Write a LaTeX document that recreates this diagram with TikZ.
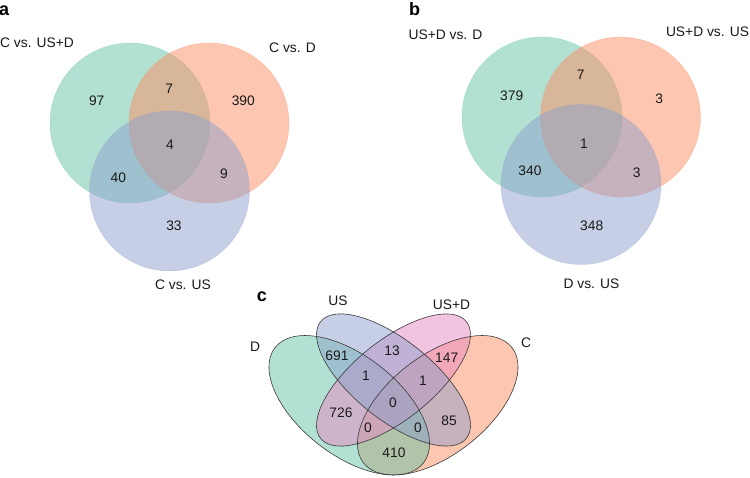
\documentclass[tikz,border=0pt]{standalone}
\usepackage{fontspec}
\setmainfont{Liberation Sans}
\definecolor{vgreen}{HTML}{66C2A5}
\definecolor{vorange}{HTML}{FC8D62}
\definecolor{vblue}{HTML}{8DA0CB}
\definecolor{vpink}{HTML}{E78AC3}
\definecolor{vline}{HTML}{3A3A3A}
\begin{document}
\begin{tikzpicture}[x=1pt,y=-1pt,
  lbl/.style={font=\fontsize{13.8}{16}\selectfont, inner sep=0pt, text=black!90},
  num/.style={lbl},
  panel/.style={font=\fontsize{18}{20}\selectfont\bfseries, inner sep=0pt, anchor=base},
  fillset/.style={fill=#1, fill opacity=0.5, draw=#1, draw opacity=0.35, line width=0.5pt},
  qfill/.style={fill=#1, fill opacity=0.5},
  qline/.style={draw=vline, line width=0.6pt}
]
\useasboundingbox (0,0) rectangle (750,477);

% ---------- panel a ----------
\coordinate (a1) at (130,123);
\coordinate (a2) at (209,123);
\coordinate (a3) at (169.5,191);
\path[fillset=vgreen]  (a1) circle[radius=80pt];
\path[fillset=vorange] (a2) circle[radius=80pt];
\path[fillset=vblue]   (a3) circle[radius=80pt];
\node[panel] (pa) at (4.2,15) {a};
\node[lbl, anchor=west] (la1) at (0,43) {C vs. US+D};
\node[lbl] (la2) at (292.5,47.5) {C vs. D};
\node[lbl] (la3) at (183,285) {C vs. US};
\node[num] (na1) at (96.7,101) {97};
\node[num] (na2) at (169.3,89) {7};
\node[num] (na3) at (243.3,101) {390};
\node[num] (na4) at (170,144.5) {4};
\node[num] (na5) at (118.3,177.5) {40};
\node[num] (na6) at (224,173.5) {9};
\node[num] (na7) at (174,226) {33};

% ---------- panel b ----------
\coordinate (b1) at (542,117);
\coordinate (b2) at (620.5,117);
\coordinate (b3) at (581,184.5);
\path[fillset=vgreen]  (b1) circle[radius=80pt];
\path[fillset=vorange] (b2) circle[radius=80pt];
\path[fillset=vblue]   (b3) circle[radius=80pt];
\node[panel] (pb) at (414.7,15) {b};
\node[lbl] (lb1) at (445.5,35) {US+D vs. D};
\node[lbl] (lb2) at (707.5,32) {US+D vs. US};
\node[lbl] (lb3) at (591.5,284) {D vs. US};
\node[num] (nb1) at (511.7,95.7) {379};
\node[num] (nb2) at (580.7,75) {7};
\node[num] (nb3) at (659.3,98.3) {3};
\node[num] (nb4) at (584,143.5) {1};
\node[num] (nb5) at (530,170.7) {340};
\node[num] (nb6) at (636.7,172.3) {3};
\node[num] (nb7) at (591.7,226) {348};

% ---------- panel c ----------
\coordinate (cD) at (349.25,405.25);
\coordinate (cC) at (437.75,405.25);
\coordinate (cU) at (393.5,380);
\coordinate (cUD) at (393.5,380);
\path[qfill=vorange, rotate around={37.8:(cC)}]  (cC) ellipse[x radius=94pt, y radius=49.7pt];
\path[qfill=vgreen,  rotate around={-37.8:(cD)}] (cD) ellipse[x radius=94pt, y radius=49.7pt];
\path[qfill=vpink,   rotate around={38.7:(cUD)}] (cUD) ellipse[x radius=93.4pt, y radius=39.6pt];
\path[qfill=vblue,   rotate around={-38.7:(cU)}] (cU) ellipse[x radius=93.4pt, y radius=39.6pt];
\path[qline, rotate around={37.8:(cC)}]  (cC) ellipse[x radius=94pt, y radius=49.7pt];
\path[qline, rotate around={-37.8:(cD)}] (cD) ellipse[x radius=94pt, y radius=49.7pt];
\path[qline, rotate around={38.7:(cUD)}] (cUD) ellipse[x radius=93.4pt, y radius=39.6pt];
\path[qline, rotate around={-38.7:(cU)}] (cU) ellipse[x radius=93.4pt, y radius=39.6pt];
\node[panel] (pc) at (262,301) {c};
\node[lbl] (lc1) at (338,301) {US};
\node[lbl] (lc2) at (451.5,305) {US+D};
\node[lbl] (lc3) at (255,346.5) {D};
\node[lbl] (lc4) at (526,343) {C};
\node[num] (nc1) at (337,356) {691};
\node[num] (nc2) at (392,351) {13};
\node[num] (nc3) at (446.7,357.5) {147};
\node[num] (nc4) at (366,376) {1};
\node[num] (nc5) at (423,381) {1};
\node[num] (nc6) at (393,403) {0};
\node[num] (nc7) at (341,413) {726};
\node[num] (nc8) at (449,421) {85};
\node[num] (nc9) at (368,428) {0};
\node[num] (nc10) at (418,428) {0};
\node[num] (nc11) at (394,453) {410};
\end{tikzpicture}
\end{document}
